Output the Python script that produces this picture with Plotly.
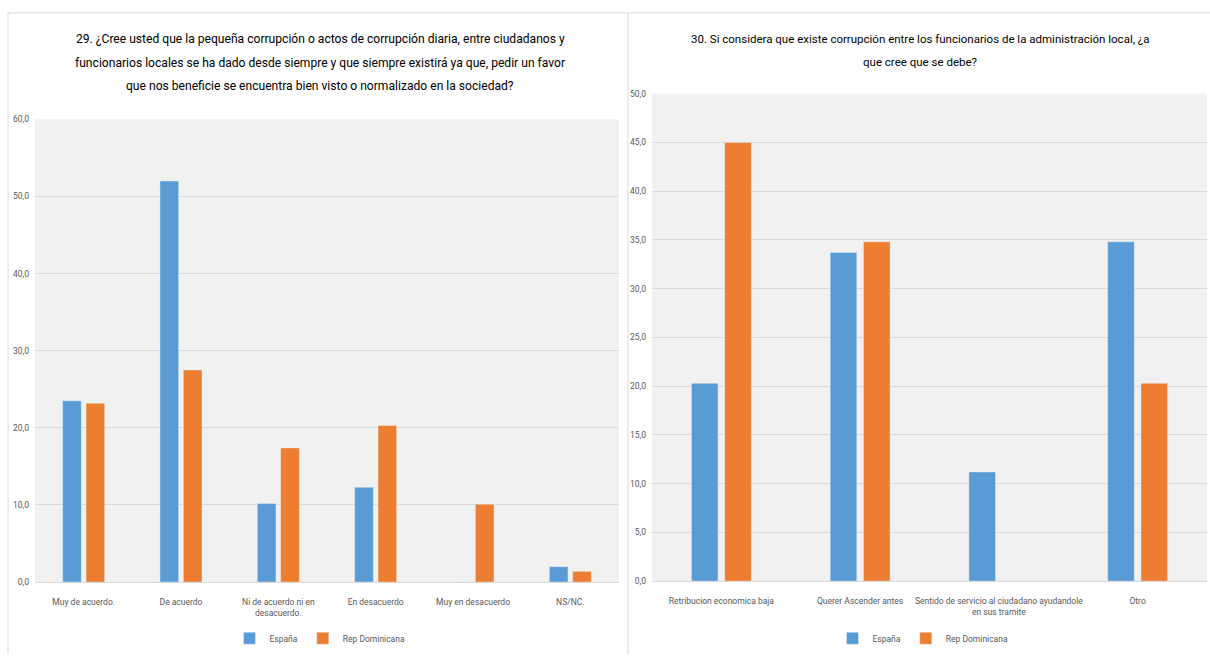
import plotly.graph_objects as go

# Pregunta 29
cats_29 = ["Muy de acuerdo.", "De acuerdo", "Ni de acuerdo ni en<br>desacuerdo.",
           "En desacuerdo", "Muy en desacuerdo", "NS/NC."]
espana_29 = [23.5, 52.0, 10.2, 12.3, 0.0, 2.0]
rd_29 = [23.2, 27.5, 17.4, 20.3, 10.1, 1.4]

# Pregunta 30
cats_30 = ["Retribucion economica baja", "Querer Ascender antes",
           "Sentido de servicio al ciudadano ayudandole<br>en sus tramite", "Otro"]
espana_30 = [20.3, 33.7, 11.2, 34.8]
rd_30 = [45.0, 34.8, 0.0, 20.3]

series_names = ["España", "Rep Dominicana"]
title_29_lines = [
    "29. ¿Cree usted que la pequeña corrupción o actos de corrupción diaria, entre ciudadanos y",
    "funcionarios locales se ha dado desde siempre y que siempre existirá ya que, pedir un favor",
    "que nos beneficie se encuentra bien visto o normalizado en la sociedad?",
]
title_30_lines = [
    "30. Si considera que existe corrupción entre los funcionarios de la administración local, ¿a",
    "que cree que se debe?",
]

BLUE = "#5B9BD5"
ORANGE = "#ED7D31"
FONT = "Roboto, Liberation Sans, sans-serif"
TICK = "#595959"
GRID = "#d9d9d9"
W, H = 1210, 659

fig = go.Figure()
fig.add_trace(go.Bar(x=cats_29, y=espana_29, name=series_names[0], marker_color=BLUE,
                     xaxis="x", yaxis="y", legend="legend"))
fig.add_trace(go.Bar(x=cats_29, y=rd_29, name=series_names[1], marker_color=ORANGE,
                     xaxis="x", yaxis="y", legend="legend"))
fig.add_trace(go.Bar(x=cats_30, y=espana_30, name=series_names[0], marker_color=BLUE,
                     xaxis="x2", yaxis="y2", legend="legend2"))
fig.add_trace(go.Bar(x=cats_30, y=rd_30, name=series_names[1], marker_color=ORANGE,
                     xaxis="x2", yaxis="y2", legend="legend2"))

axis_common = dict(tickfont=dict(size=8.5, color=TICK, family=FONT))

# Titles: one annotation per line so the line spacing can be set freely
annotations = []
for i, line in enumerate(title_29_lines):
    annotations.append(dict(text=line, x=320 / W, y=1 - (35 + 23.5 * i) / H, xref="paper",
                            yref="paper", xanchor="center", yanchor="middle", showarrow=False,
                            font=dict(size=12.1, color="#000000", family=FONT)))
for i, line in enumerate(title_30_lines):
    annotations.append(dict(text=line, x=920 / W, y=1 - (35 + 23 * i) / H, xref="paper",
                            yref="paper", xanchor="center", yanchor="middle", showarrow=False,
                            font=dict(size=11.5, color="#000000", family=FONT)))

legend_common = dict(orientation="h", xanchor="center", y=1 - 643 / H, yanchor="middle",
                     font=dict(size=8.5, color=TICK, family=FONT), itemwidth=30,
                     tracegroupgap=0, bgcolor="rgba(0,0,0,0)")

fig.update_layout(
    width=W, height=H,
    margin=dict(l=0, r=0, t=0, b=0),
    paper_bgcolor="white",
    plot_bgcolor="#f1f1f1",
    separators=",.",
    barmode="group",
    bargap=0.52,
    bargroupgap=0.2,
    font=dict(family=FONT, color=TICK),
    xaxis=dict(domain=[35 / W, 619 / W], anchor="y", showgrid=False, showline=True,
               linecolor=GRID, ticks="", tickangle=0, ticklabelstandoff=12, **axis_common),
    yaxis=dict(domain=[1 - 586 / H, 1 - 116 / H], anchor="x", range=[0, 60], dtick=10,
               tickformat=".1f", gridcolor=GRID, zeroline=False, showline=False,
               ticklabelstandoff=5, **axis_common),
    xaxis2=dict(domain=[652 / W, 1207 / W], anchor="y2", showgrid=False, showline=True,
                linecolor=GRID, ticks="", tickangle=0, ticklabelstandoff=12, **axis_common),
    yaxis2=dict(domain=[1 - 585 / H, 1 - 90 / H], anchor="x2", range=[0, 50], dtick=5,
                tickformat=".1f", gridcolor=GRID, zeroline=False, showline=False,
                ticklabelstandoff=5, **axis_common),
    legend=dict(x=320 / W, **legend_common),
    legend2=dict(x=923 / W, **legend_common),
    annotations=annotations,
    shapes=[
        dict(type="line", xref="paper", yref="paper", x0=8 / W, x1=1, y0=1 - 8 / H, y1=1 - 8 / H,
             line=dict(color=GRID, width=1)),
        dict(type="line", xref="paper", yref="paper", x0=8 / W, x1=8 / W, y0=0, y1=1 - 8 / H,
             line=dict(color=GRID, width=1)),
        dict(type="line", xref="paper", yref="paper", x0=628 / W, x1=628 / W, y0=0, y1=1 - 8 / H,
             line=dict(color=GRID, width=1)),
    ],
)

fig.write_html("out.html")
